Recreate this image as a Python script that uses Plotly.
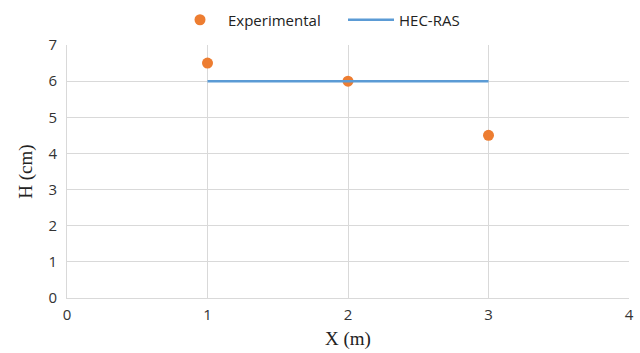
import plotly.graph_objects as go

exp_x = [1, 2, 3]
exp_h = [6.5, 6.0, 4.5]
hec_x = [1, 2, 3]
hec_h = [6.0, 6.0, 6.0]

fig = go.Figure()
fig.add_trace(go.Scatter(x=exp_x, y=exp_h, mode="markers", name="Experimental",
                         marker=dict(color="#ED7D31", size=11)))
fig.add_trace(go.Scatter(x=hec_x, y=hec_h, mode="lines", name="HEC-RAS",
                         line=dict(color="#5B9BD5", width=2.5)))

tickfont = dict(family="Open Sans, sans-serif", size=15, color="#333333")
titlefont = dict(family="Liberation Serif, Times New Roman, serif", size=19, color="#222222")

fig.update_layout(
    width=640, height=353,
    margin=dict(l=67, r=11, t=45, b=55, autoexpand=False),
    paper_bgcolor="white", plot_bgcolor="white",
    showlegend=True,
    legend=dict(orientation="h", xref="container", yref="container",
                x=172 / 640, xanchor="left", y=1 - 20 / 353, yanchor="middle",
                itemwidth=46, entrywidth=110, entrywidthmode="pixels",
                font=dict(family="Open Sans, sans-serif", size=15, color="#222222"),
                tracegroupgap=0),
    xaxis=dict(range=[0, 4], dtick=1, showgrid=True, gridcolor="#d9d9d9", gridwidth=1,
               showline=True, linecolor="#d9d9d9", zeroline=False, ticks="",
               ticklabelstandoff=3, automargin=False,
               tickfont=tickfont, title=dict(text="X (m)", font=titlefont, standoff=8),
               fixedrange=True),
    yaxis=dict(range=[0, 7], dtick=1, showgrid=True, gridcolor="#d9d9d9", gridwidth=1,
               showline=True, linecolor="#d9d9d9", zeroline=False, ticks="",
               ticklabelstandoff=6, automargin=False,
               tickfont=tickfont, title=dict(text="H (cm)", font=titlefont, standoff=10),
               fixedrange=True),
)

fig.write_html("out.html")
